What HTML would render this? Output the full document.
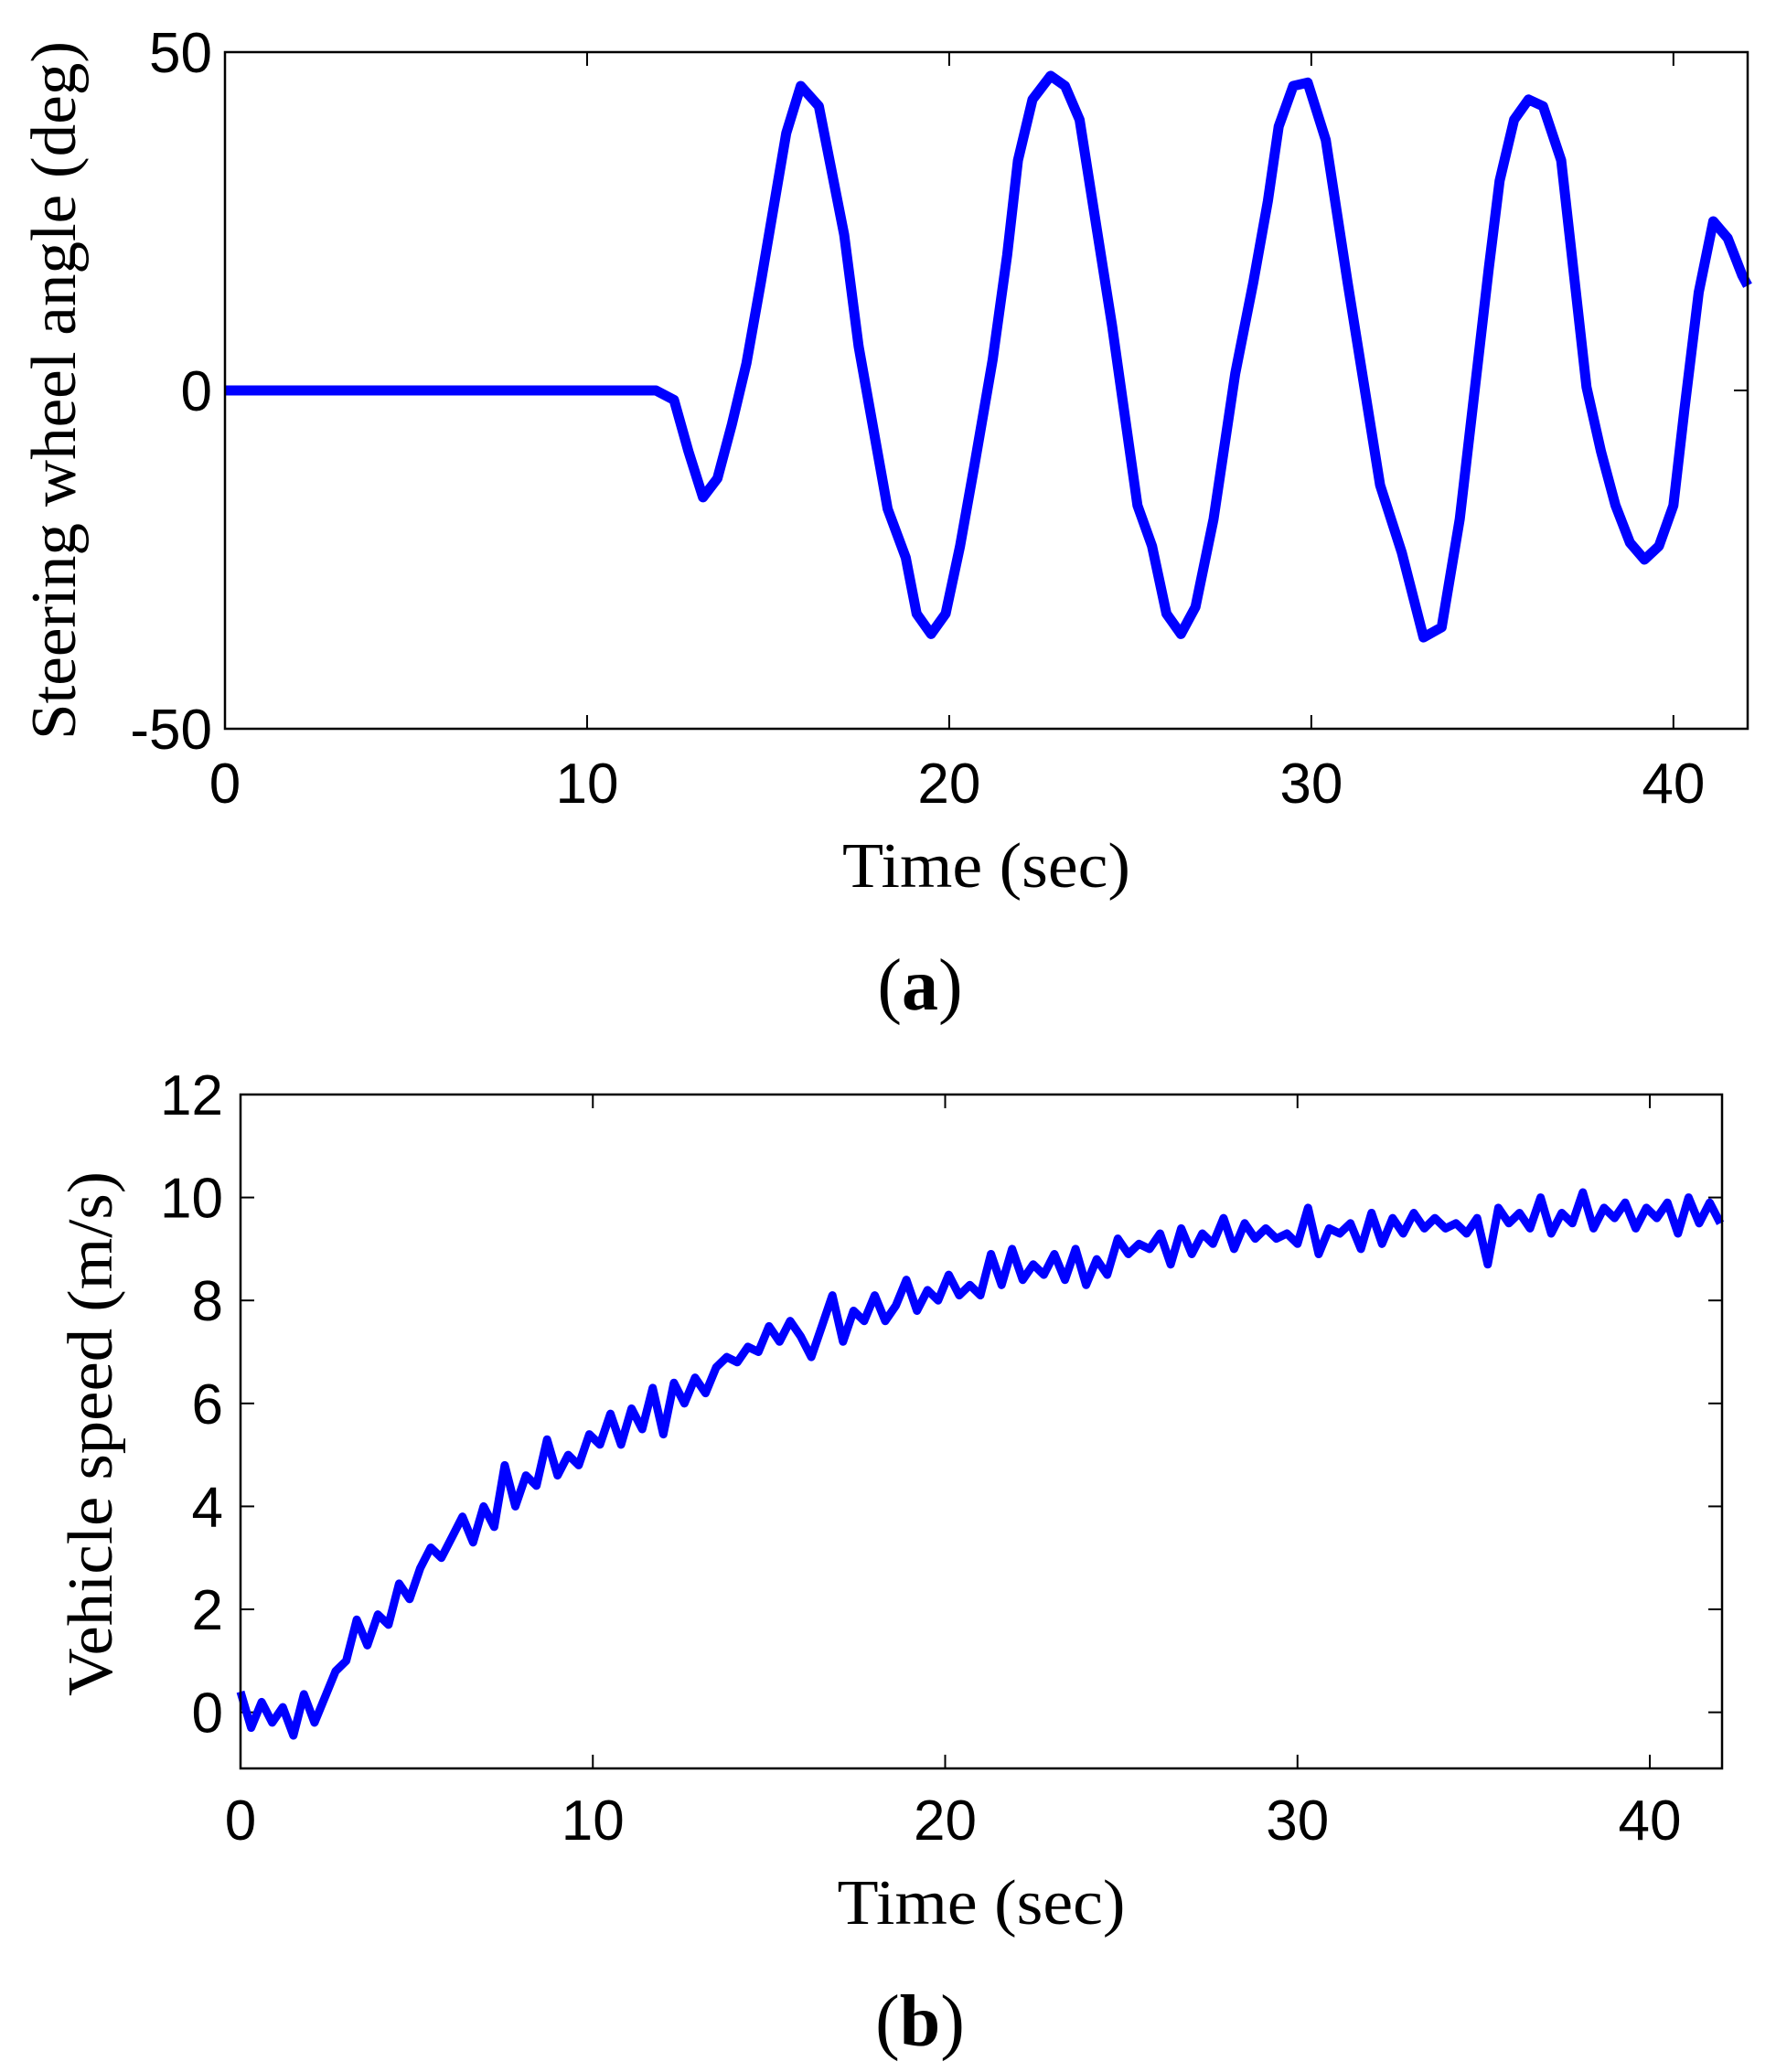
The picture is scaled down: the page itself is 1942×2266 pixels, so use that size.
<!DOCTYPE html>
<html><head><meta charset="utf-8"><style>
html,body{margin:0;padding:0;background:#fff;}
svg{display:block;}
text{fill:#000;}
.tick{font-family:"Liberation Sans",sans-serif;font-size:62px;}
.lab{font-family:"Liberation Serif",serif;font-size:70px;}
.let{font-family:"Liberation Serif",serif;font-size:80px;}
</style></head><body>
<svg id="fig" width="1942" height="2266" viewBox="0 0 1942 2266" xmlns="http://www.w3.org/2000/svg"></svg>
<script>
const steerTime=[0,11.9,12.4,12.8,13.2,13.6,14.0,14.4,14.8,15.5,15.9,16.4,17.1,17.5,18.3,18.8,19.1,19.5,19.9,20.3,20.7,21.2,21.6,21.9,22.3,22.8,23.2,23.6,24.1,24.5,25.2,25.6,26.0,26.4,26.8,27.3,27.9,28.4,28.8,29.1,29.5,29.9,30.4,31.0,31.9,32.5,33.1,33.6,34.1,34.9,35.2,35.6,36.0,36.4,36.9,37.6,38.0,38.4,38.8,39.2,39.6,40.0,40.3,40.7,41.1,41.5,41.9,42.05];
const steerAngle=[0,0,-1.4,-9,-15.8,-13,-5,4,16,38,45,42,23,6.5,-17.5,-24.7,-33,-36,-33,-23,-11,4.5,20,34,43,46.5,45,40,23,9.5,-17,-23,-33,-36,-32,-19,2.5,16,28,39,45,45.5,37,16,-14,-24,-36.5,-35,-19,18,31,40,43,42,34,0.5,-9,-17,-22.5,-25,-23,-17,-3,14.5,25,22.5,17,15.5];
const steerXTicks=[0,10,20,30,40];
const steerYTicks=[-50,0,50];
const speedStart=0, speedStep=0.3;
const speedValues=[0.4,-0.3,0.2,-0.2,0.1,-0.45,0.35,-0.2,0.3,0.8,
1.0,1.8,1.3,1.9,1.7,2.5,2.2,2.8,3.2,3.0,
3.4,3.8,3.3,4.0,3.6,4.8,4.0,4.6,4.4,5.3,
4.6,5.0,4.8,5.4,5.2,5.8,5.2,5.9,5.5,6.3,
5.4,6.4,6.0,6.5,6.2,6.7,6.9,6.8,7.1,7.0,
7.5,7.2,7.6,7.3,6.9,7.5,8.1,7.2,7.8,7.6,
8.1,7.6,7.9,8.4,7.8,8.2,8.0,8.5,8.1,8.3,
8.1,8.9,8.3,9.0,8.4,8.7,8.5,8.9,8.4,9.0,
8.3,8.8,8.5,9.2,8.9,9.1,9.0,9.3,8.7,9.4,
8.9,9.3,9.1,9.6,9.0,9.5,9.2,9.4,9.2,9.3,
9.1,9.8,8.9,9.4,9.3,9.5,9.0,9.7,9.1,9.6,
9.3,9.7,9.4,9.6,9.4,9.5,9.3,9.6,8.7,9.8,
9.5,9.7,9.4,10.0,9.3,9.7,9.5,10.1,9.4,9.8,
9.6,9.9,9.4,9.8,9.6,9.9,9.3,10.0,9.5,9.9,9.5];
const speedXTicks=[0,10,20,30,40];
const speedYTicks=[0,2,4,6,8,10,12];

const NS='http://www.w3.org/2000/svg';
const svg=document.getElementById('fig');
function mk(tag,attrs,parent){const e=document.createElementNS(NS,tag);for(const k in attrs)e.setAttribute(k,attrs[k]);(parent||svg).appendChild(e);return e;}

function panel(cfg){
  const g=mk('g',{});
  
  
  const sx=v=>cfg.L+(v-cfg.x0)/(cfg.x1-cfg.x0)*(cfg.R-cfg.L);
  const sy=v=>cfg.B-(v-cfg.y0)/(cfg.y1-cfg.y0)*(cfg.B-cfg.T);
  const tl=15;
  cfg.xt.forEach(v=>{
    const x=sx(v);
    const t1=mk('line',{x1:x,y1:cfg.B,x2:x,y2:cfg.B-tl,stroke:'#000','stroke-width':2},g);
    
    
    mk('line',{x1:x,y1:cfg.T,x2:x,y2:cfg.T+tl,stroke:'#000','stroke-width':2},g);
    const tx=mk('text',{x:x,y:cfg.xlabY,'text-anchor':'middle',class:'tick'},g);
    tx.textContent=v;
    
    
  });
  cfg.yt.forEach(v=>{
    const y=sy(v);
    mk('line',{x1:cfg.L,y1:y,x2:cfg.L+tl,y2:y,stroke:'#000','stroke-width':2},g);
    const t2=mk('line',{x1:cfg.R,y1:y,x2:cfg.R-tl,y2:y,stroke:'#000','stroke-width':2},g);
    
    
    const ty=mk('text',{x:cfg.ylabX,y:y+22,'text-anchor':'end',class:'tick'},g);
    ty.textContent=v;
    
    
  });
  const d=cfg.xs.map((x,i)=>(i?'L':'M')+sx(x).toFixed(1)+' '+sy(cfg.ys[i]).toFixed(1)).join(' ');
  const cp=mk('clipPath',{id:cfg.name+'-clip'},g);
  mk('rect',{x:cfg.L-6,y:cfg.T,width:cfg.R-cfg.L+12,height:cfg.B-cfg.T},cp);
  const p=mk('path',{d:d,fill:'none',stroke:'#0000ff','stroke-width':cfg.lw,'stroke-linejoin':'round','clip-path':'url(#'+cfg.name+'-clip)'},g);
  
  
  const box=mk('rect',{x:cfg.L,y:cfg.T,width:cfg.R-cfg.L,height:cfg.B-cfg.T,fill:'none',stroke:'#000','stroke-width':2.5},g);
  
  
  const xl=mk('text',{x:(cfg.L+cfg.R)/2,y:cfg.xTitleY,'text-anchor':'middle',class:'lab',textLength:315,lengthAdjust:'spacingAndGlyphs'},g);
  xl.textContent='Time (sec)';
  
  
  const yl=mk('text',{x:0,y:0,'text-anchor':'middle',class:'lab',transform:'translate('+cfg.yTitleX+','+cfg.yTitleC+') rotate(-90)',textLength:cfg.yTitleLen,lengthAdjust:'spacingAndGlyphs'},g);
  yl.textContent=cfg.yTitle;
  
  
  const pl=mk('text',{x:1006,y:cfg.letterY,'text-anchor':'middle',class:'let'},g);
  pl.innerHTML='(<tspan font-weight="bold">'+cfg.letter+'</tspan>)';
  
  
}

panel({name:'steering-chart',L:246,R:1911,T:57,B:797,x0:0,x1:42.05,y0:-50,y1:50,
  xt:steerXTicks,yt:steerYTicks,xs:steerTime,ys:steerAngle,lw:11,
  xlabY:878,ylabX:232,xTitleY:970,yTitleX:82,yTitleC:427,yTitleLen:764,
  yTitle:'Steering wheel angle (deg)',letter:'a',letterY:1104});

const speedTime=speedValues.map((_,i)=>speedStart+i*speedStep);
panel({name:'speed-chart',L:263,R:1883,T:1197,B:1934,x0:0,x1:42.05,y0:-1.09,y1:12,
  xt:speedXTicks,yt:speedYTicks,xs:speedTime,ys:speedValues,lw:9,
  xlabY:2012,ylabX:244,xTitleY:2104,yTitleX:122,yTitleC:1568,yTitleLen:574,
  yTitle:'Vehicle speed (m/s)',letter:'b',letterY:2237});
</script>
</body></html>
